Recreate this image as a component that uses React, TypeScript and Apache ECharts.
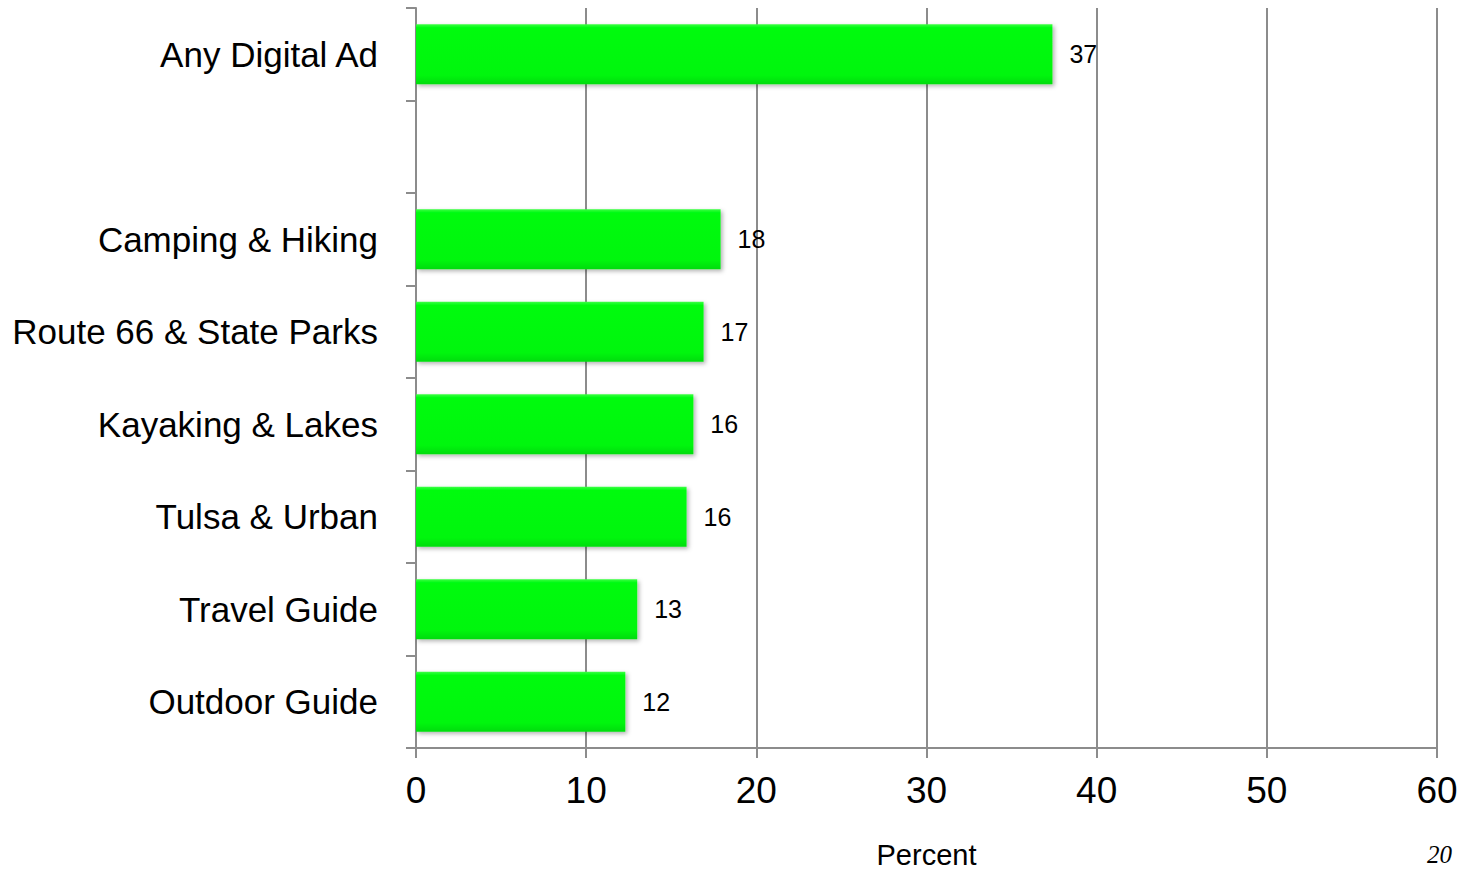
import React, { useEffect, useRef } from "react";
import * as echarts from "echarts";

const categories = [
  "Any Digital Ad",
  "",
  "Camping & Hiking",
  "Route 66 & State Parks",
  "Kayaking & Lakes",
  "Tulsa & Urban",
  "Travel Guide",
  "Outdoor Guide",
];
const values: (number | null)[] = [37.4, null, 17.9, 16.9, 16.3, 15.9, 13.0, 12.3];
const valueLabels = ["37", "", "18", "17", "16", "16", "13", "12"];
const xTicks = [0, 10, 20, 30, 40, 50, 60];
const xAxisTitle = "Percent";
const pageNumber = "20";

export default function App() {
  const ref = useRef<HTMLDivElement>(null);
  useEffect(() => {
    document.body.style.margin = "0";
    const chart = echarts.init(ref.current!, null, { renderer: "svg" });
    const grey = "#8c8c8c";
    chart.setOption({
      animation: false,
      backgroundColor: "#ffffff",
      grid: { left: 416, right: 37, top: 8, bottom: 121, containLabel: false, outerBoundsMode: "none" },
      xAxis: {
        type: "value",
        min: xTicks[0],
        max: xTicks[xTicks.length - 1],
        interval: 10,
        name: xAxisTitle,
        nameLocation: "middle",
        nameGap: 92,
        nameTextStyle: { fontFamily: "'Liberation Sans', Arial, sans-serif", fontSize: 29, color: "#000" },
        axisLine: { show: true, lineStyle: { color: grey, width: 2 } },
        axisTick: { show: true, length: 10, lineStyle: { color: grey, width: 2 } },
        axisLabel: { fontFamily: "'Liberation Sans', Arial, sans-serif", fontSize: 37, color: "#000", margin: 24 },
        splitLine: { show: true, lineStyle: { color: grey, width: 2 } },
      },
      yAxis: {
        type: "category",
        data: categories,
        inverse: true,
        axisLine: { show: true, lineStyle: { color: grey, width: 2 } },
        axisTick: { show: true, length: 10, inside: false, lineStyle: { color: grey, width: 2 } },
        axisLabel: {
          fontFamily: "'Liberation Sans Narrow', 'Arial Narrow', 'Liberation Sans', sans-serif",
          fontSize: 35,
          color: "#000",
          margin: 38,
        },
        splitLine: { show: false },
      },
      series: [
        {
          type: "bar",
          data: values,
          barWidth: 60,
          itemStyle: {
            color: new echarts.graphic.LinearGradient(0, 0, 0, 1, [
              { offset: 0, color: "#3cff45" },
              { offset: 0.06, color: "#00fb10" },
              { offset: 0.85, color: "#00f60e" },
              { offset: 1, color: "#00dc0c" },
            ]),
            shadowColor: "rgba(0,0,0,0.3)",
            shadowBlur: 4,
            shadowOffsetX: 2,
            shadowOffsetY: 2,
          },
          label: {
            show: true,
            position: "right",
            distance: 17,
            formatter: (p: any) => valueLabels[p.dataIndex],
            fontFamily: "'Liberation Sans', Arial, sans-serif",
            fontSize: 25,
            color: "#000",
          },
        },
      ],
      graphic: [
        {
          type: "text",
          left: 1427,
          top: 842,
          style: {
            text: pageNumber,
            font: "italic 25px 'Liberation Serif', 'Times New Roman', serif",
            fill: "#000",
          },
        },
      ],
    });
    return () => chart.dispose();
  }, []);
  return <div ref={ref} style={{ position: "absolute", left: 0, top: 0, width: 1474, height: 869 }} />;
}
